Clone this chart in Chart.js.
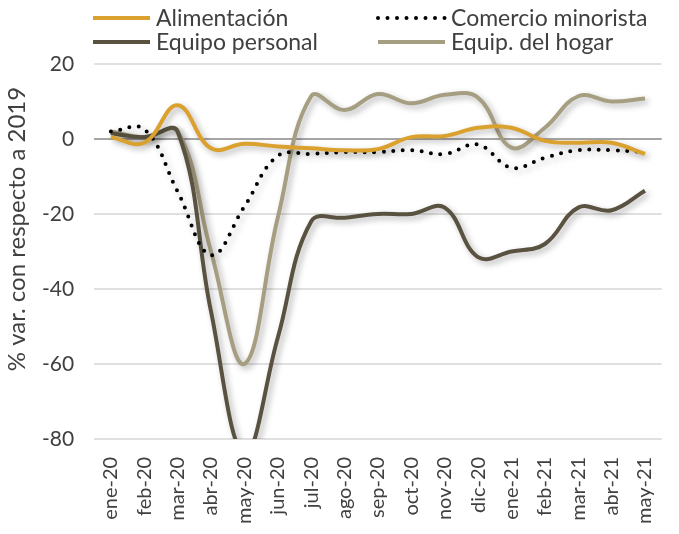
<!DOCTYPE html>
<html>
<head>
<meta charset="utf-8">
<script src="https://cdn.jsdelivr.net/npm/chart.js@4"></script>
<style>
  body { margin: 0; background: #fff; }
  #wrap { width: 679px; height: 534px; }
</style>
</head>
<body>
<div id="wrap"><canvas id="chart"></canvas></div>
<script>
const meses = ['ene-20','feb-20','mar-20','abr-20','may-20','jun-20','jul-20','ago-20','sep-20','oct-20','nov-20','dic-20','ene-21','feb-21','mar-21','abr-21','may-21'];
const alimentacion = [0.5, -1, 9, -2.5, -1.3, -2, -2.5, -3, -2.7, 0.5, 0.8, 3, 3, -0.5, -1, -1, -4];
const comercio = [2, 2.6, -14, -31, -18, -4.5, -4, -3.5, -3.5, -3, -4, -1.5, -7.7, -5, -3, -3, -3.5];
const equipoPersonal = [1.5, 0.5, 2, -46, -84, -53, -22, -21, -20, -20, -18.3, -31.5, -30, -28, -18.3, -19, -13.8];
const equipHogar = [2, 0.5, 2, -30, -60, -21, 11.4, 7.7, 12, 9.5, 11.8, 11, -2.3, 3, 11.4, 10, 10.8];
const yTicks = [20, 0, -20, -40, -60, -80];
const tituloY = '% var. con respecto a 2019';

const fuente = 'Lato, "Noto Sans", sans-serif';
const gris = '#404040';

// sombra suave debajo de cada línea
const sombra = {
  id: 'sombra',
  beforeDatasetDraw(chart) {
    const ctx = chart.ctx;
    ctx.save();
    ctx.shadowColor = 'rgba(0,0,0,0.3)';
    ctx.shadowBlur = 6;
    ctx.shadowOffsetX = 3;
    ctx.shadowOffsetY = 3;
  },
  afterDatasetDraw(chart) {
    chart.ctx.restore();
  }
};

// leyenda en dos columnas y título del eje Y
const leyenda = {
  id: 'leyenda',
  afterDraw(chart) {
    const ctx = chart.ctx;
    const pos = [[93, 18, 57], [93, 42, 57], [378, 18, 67], [378, 42, 67]];
    const orden = [0, 2, 1, 3];
    ctx.save();
    ctx.font = '23px ' + fuente;
    ctx.textBaseline = 'middle';
    orden.forEach((di, k) => {
      const ds = chart.data.datasets[di];
      const [x, y, w] = pos[k];
      ctx.strokeStyle = ds.borderColor;
      ctx.lineWidth = 4;
      ctx.lineCap = ds.borderCapStyle || 'butt';
      ctx.setLineDash(ds.borderDash || []);
      ctx.beginPath();
      ctx.moveTo(x, y);
      ctx.lineTo(x + w, y);
      ctx.stroke();
      ctx.setLineDash([]);
      ctx.fillStyle = gris;
      ctx.fillText(ds.label, x + w + 6, y + 1);
    });
    ctx.translate(17, 229);
    ctx.rotate(-Math.PI / 2);
    ctx.textAlign = 'center';
    ctx.font = '24px ' + fuente;
    ctx.fillText(tituloY, 0, 0);
    ctx.restore();
  }
};

new Chart(document.getElementById('chart'), {
  type: 'line',
  data: {
    labels: meses,
    datasets: [
      { label: 'Alimentación', data: alimentacion, borderColor: '#DBA12F', borderWidth: 4 },
      { label: 'Comercio minorista', data: comercio, borderColor: '#000000', borderWidth: 4,
        borderDash: [0, 9.5], borderCapStyle: 'round' },
      { label: 'Equipo personal', data: equipoPersonal, borderColor: '#595240', borderWidth: 4 },
      { label: 'Equip. del hogar', data: equipHogar, borderColor: '#A69E80', borderWidth: 4 }
    ]
  },
  options: {
    responsive: true,
    maintainAspectRatio: false,
    animation: false,
    layout: { padding: { top: 64, right: 0, left: 22, bottom: 0 } },
    elements: {
      point: { radius: 0 },
      line: { tension: 0.4, fill: false }
    },
    datasets: { line: { clip: 0 } },
    plugins: {
      legend: { display: false },
      tooltip: { enabled: false }
    },
    scales: {
      x: {
        offset: true,
        grid: { display: false },
        border: { display: false },
        ticks: { color: gris, font: { family: fuente, size: 20 }, minRotation: 90, maxRotation: 90, padding: 10 }
      },
      y: {
        min: -80,
        max: 20,
        afterBuildTicks(axis) { axis.ticks = yTicks.map(v => ({ value: v })); },
        grid: {
          color: ctx => ctx.tick && ctx.tick.value === 0 ? '#a6a6a6' : '#e0e0e0',
          lineWidth: 2,
          drawTicks: false
        },
        border: { display: false },
        ticks: { color: gris, font: { family: fuente, size: 21 }, padding: 20 }
      }
    }
  },
  plugins: [sombra, leyenda]
});
</script>
</body>
</html>
